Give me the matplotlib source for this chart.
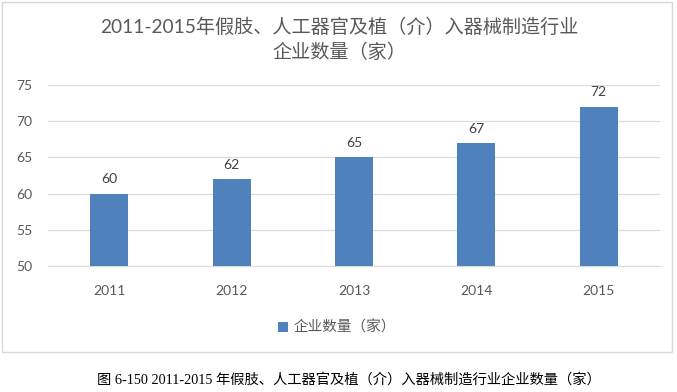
import matplotlib
matplotlib.use("Agg")
import matplotlib.pyplot as plt
from matplotlib.patches import Rectangle

plt.rcParams['font.family'] = ['Lato', 'Noto Sans CJK SC', 'DejaVu Sans']

years = ["2011", "2012", "2013", "2014", "2015"]
counts = [60, 62, 65, 67, 72]
yticks = [50, 55, 60, 65, 70, 75]
series_name = "企业数量（家）"
title_l1 = "2011-2015年假肢、人工器官及植（介）入器械制造行业"
title_l2 = "企业数量（家）"
caption = "图 6-150 2011-2015 年假肢、人工器官及植（介）入器械制造行业企业数量（家）"

W, H = 677, 392
fig = plt.figure(figsize=(W/100, H/100), dpi=100)
fig.patch.set_facecolor("white")

# outer chart border
fig.patches.append(Rectangle((2/W, 1 - 352/H), 670/W, 350/H, transform=fig.transFigure,
                             fill=False, edgecolor="#D9D9D9", linewidth=1))

ax = fig.add_axes([48/W, 1 - 266/H, 612/W, 181/H])
x = list(range(len(years)))
bars = ax.bar(x, counts, width=0.31, color="#4F81BD", label=series_name, zorder=3)
ax.set_ylim(50, 75)
ax.set_xlim(-0.5, len(years) - 0.5)
ax.set_yticks(yticks)
ax.set_xticks(x)
ax.set_xticklabels(years)
ax.grid(axis="y", color="#D9D9D9", linewidth=0.8, zorder=0)
for s in ["top", "right", "left"]:
    ax.spines[s].set_visible(False)
ax.spines["bottom"].set_color("#D9D9D9")
ax.tick_params(axis="both", length=0, colors="#595959", labelsize=10)
ax.tick_params(axis="x", pad=14)
ax.tick_params(axis="y", pad=11)
ax.bar_label(bars, labels=[str(c) for c in counts], padding=6, color="#404040", fontsize=10)

tfam = ['Lato', 'Noto Sans CJK SC', 'DejaVu Sans']
fig.text(339.5/W, 1 - 27/H, title_l1, ha="center", va="center", fontsize=13.8,
         color="#595959", family=tfam)
fig.text(339.5/W, 1 - 52/H, title_l2, ha="center", va="center", fontsize=13.8,
         color="#595959", family=tfam)

fig.legend(handles=[bars], labels=[series_name], loc="center",
           bbox_to_anchor=(337/W, 1 - 328/H), bbox_transform=fig.transFigure,
           frameon=False, fontsize=10.5, labelcolor="#595959", handlelength=0.7,
           handleheight=0.7, handletextpad=0.4)

fig.text(349/W, 1 - 380/H, caption, ha="center", va="center", fontsize=10.3,
         color="#000000", family=['Liberation Serif', 'Noto Sans CJK SC', 'DejaVu Sans'])

fig.savefig("out.png", dpi=100, facecolor="white")
